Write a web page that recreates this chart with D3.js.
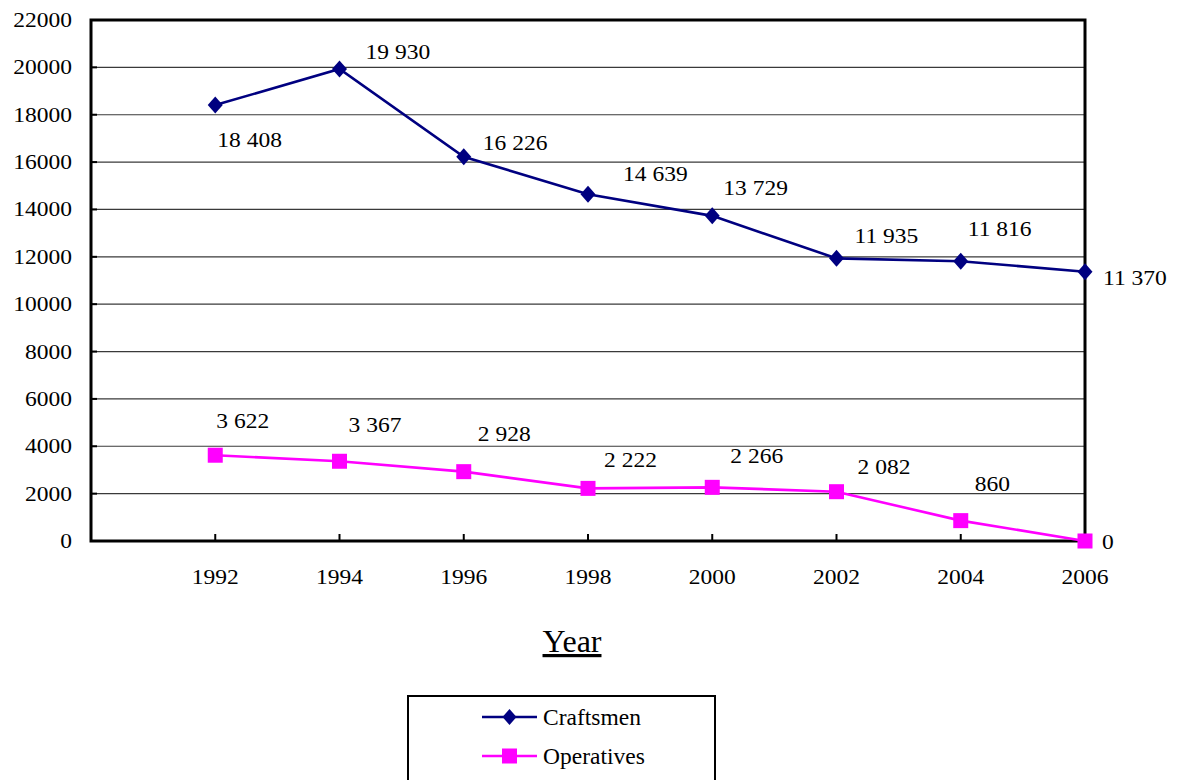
<!DOCTYPE html>
<html>
<head>
<meta charset="utf-8">
<script src="https://cdn.jsdelivr.net/npm/d3@7"></script>
<style>
  html, body { margin: 0; padding: 0; background: #fff; }
  svg { display: block; }
  text { font-family: "Liberation Serif", "Times New Roman", serif; fill: #000; }
</style>
</head>
<body>
<svg id="chart" width="1177" height="780"></svg>
<script>
// Employment by year
const years = [1992, 1994, 1996, 1998, 2000, 2002, 2004, 2006];
const craftsmen = [18408, 19930, 16226, 14639, 13729, 11935, 11816, 11370];
const operatives = [3622, 3367, 2928, 2222, 2266, 2082, 860, 0];
const yTicks = [0, 2000, 4000, 6000, 8000, 10000, 12000, 14000, 16000, 18000, 20000, 22000];
const seriesNames = ["Craftsmen", "Operatives"];
const seriesColors = ["#000080", "#ff00ff"];

// Hand-placed value label offsets (left edge / baseline relative to the point)
const craftsmenLabelOffsets = [[2, 42], [26, -10], [19, -7], [35, -13], [11, -21], [18, -15], [7, -25], [18, 13]];
const operativesLabelOffsets = [[1, -27], [9, -29], [14, -31], [16, -21], [18, -24], [21, -18], [14, -30], [17, 8]];

const svg = d3.select("#chart");
const plot = { left: 91, right: 1085, top: 20, bottom: 541 };

const x = d3.scaleLinear().domain([1990, 2006]).range([plot.left, plot.right]);
const y = d3.scaleLinear().domain([0, 22000]).range([plot.bottom, plot.top]);

const spaced = d3.formatLocale({ decimal: ".", thousands: " ", grouping: [3], currency: ["", ""] }).format(",");

const NUM_SIZE = 21, NUM_STRETCH = 1.12;
function numText(sel, tx, ty, anchor) {
  return sel.append("text")
    .attr("transform", `translate(${tx},${ty}) scale(${NUM_STRETCH},1)`)
    .attr("text-anchor", anchor || "start")
    .style("font-size", NUM_SIZE + "px");
}

// Diamond marker: a little taller than it is wide
function diamondPath(hw, hh) {
  return `M0,${-hh}L${hw},0L0,${hh}L${-hw},0Z`;
}

// Gridlines
svg.append("g").selectAll("line").data(yTicks.filter(d => d > 0 && d < 22000)).join("line")
  .attr("x1", plot.left).attr("x2", plot.right)
  .attr("y1", d => y(d)).attr("y2", d => y(d))
  .attr("stroke", "#3a3a3a").attr("stroke-width", 1.2);

// Plot frame
svg.append("rect")
  .attr("x", plot.left).attr("y", plot.top)
  .attr("width", plot.right - plot.left).attr("height", plot.bottom - plot.top)
  .attr("fill", "none").attr("stroke", "#000").attr("stroke-width", 3);

// Y axis ticks and labels
const yAxis = svg.append("g");
yAxis.selectAll("line").data(yTicks).join("line")
  .attr("x1", plot.left).attr("x2", plot.left + 6)
  .attr("y1", d => y(d)).attr("y2", d => y(d))
  .attr("stroke", "#000").attr("stroke-width", 2);
yTicks.forEach(t => {
  numText(yAxis, 72, y(t) + 7, "end").text(t);
});

// X axis ticks and labels
const xAxis = svg.append("g");
xAxis.selectAll("line").data(years).join("line")
  .attr("x1", d => x(d)).attr("x2", d => x(d))
  .attr("y1", plot.bottom).attr("y2", plot.bottom - 7)
  .attr("stroke", "#000").attr("stroke-width", 2);
years.forEach(yr => {
  numText(xAxis, x(yr), 584, "middle").text(yr);
});

// Axis title
svg.append("text")
  .attr("x", 572).attr("y", 652)
  .attr("text-anchor", "middle")
  .style("font-size", "32px")
  .style("text-decoration", "underline")
  .text("Year");

const line = d3.line().x(d => x(d.year)).y(d => y(d.value));

function drawSeries(values, color, offsets, markerType) {
  const pts = years.map((yr, i) => ({ year: yr, value: values[i] }));
  const g = svg.append("g");
  g.append("path").datum(pts)
    .attr("d", line)
    .attr("fill", "none")
    .attr("stroke", color)
    .attr("stroke-width", 2.6);
  if (markerType === "diamond") {
    g.selectAll("path.m").data(pts).join("path").attr("class", "m")
      .attr("d", diamondPath(7.5, 8.5))
      .attr("transform", d => `translate(${x(d.year)},${y(d.value)})`)
      .attr("fill", color);
  } else {
    g.selectAll("rect.m").data(pts).join("rect").attr("class", "m")
      .attr("x", d => x(d.year) - 7.5).attr("y", d => y(d.value) - 7.5)
      .attr("width", 15).attr("height", 15)
      .attr("fill", color);
  }
  pts.forEach((d, i) => {
    numText(g, x(d.year) + offsets[i][0], y(d.value) + offsets[i][1]).text(spaced(d.value));
  });
}

drawSeries(craftsmen, seriesColors[0], craftsmenLabelOffsets, "diamond");
drawSeries(operatives, seriesColors[1], operativesLabelOffsets, "square");

// Legend
const legend = svg.append("g");
legend.append("rect")
  .attr("x", 408).attr("y", 696)
  .attr("width", 307).attr("height", 100)
  .attr("fill", "#fff").attr("stroke", "#000").attr("stroke-width", 2);
seriesNames.forEach((name, i) => {
  const cy = 717 + i * 39;
  legend.append("line")
    .attr("x1", 482).attr("x2", 537).attr("y1", cy).attr("y2", cy)
    .attr("stroke", seriesColors[i]).attr("stroke-width", 2.6);
  if (i === 0) {
    legend.append("path")
      .attr("d", diamondPath(7, 8))
      .attr("transform", `translate(509.5,${cy})`)
      .attr("fill", seriesColors[i]);
  } else {
    legend.append("rect")
      .attr("x", 502).attr("y", cy - 7.5).attr("width", 15).attr("height", 15)
      .attr("fill", seriesColors[i]);
  }
  legend.append("text")
    .attr("x", 543).attr("y", cy + 8)
    .style("font-size", "23.5px")
    .text(name);
});
</script>
</body>
</html>
